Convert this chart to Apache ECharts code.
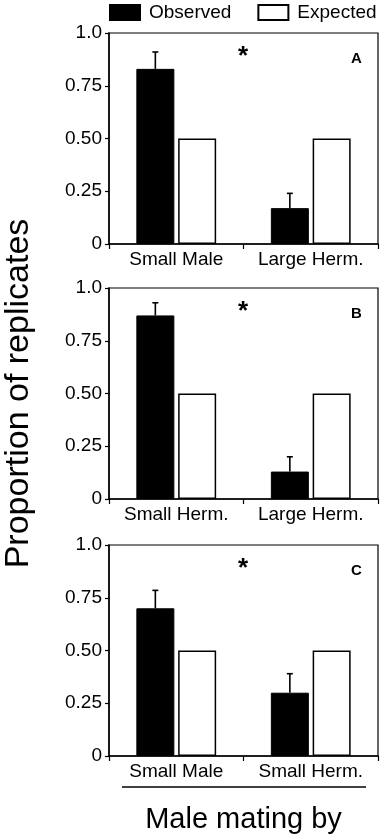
<!DOCTYPE html>
<html>
<head>
<meta charset="utf-8">
<script src="https://cdn.jsdelivr.net/npm/echarts@6/dist/echarts.min.js"></script>
<style>
  html, body { margin: 0; padding: 0; background: #fff; }
  #chart { width: 383px; height: 837px; }
</style>
</head>
<body>
<div id="chart"></div>
<script>
// data
var categoriesA = ['Small Male', 'Large Herm.']
var categoriesB = ['Small Herm.', 'Large Herm.']
var categoriesC = ['Small Male', 'Small Herm.']
var observedA = [0.83, 0.17]
var observedB = [0.87, 0.13]
var observedC = [0.70, 0.30]
var errorA = [0.08, 0.07]
var errorB = [0.06, 0.07]
var errorC = [0.085, 0.09]
var expected = [0.5, 0.5]
var panelLetters = ['A', 'B', 'C']
var yTicks = {0: '0', 0.25: '0.25', 0.5: '0.50', 0.75: '0.75', 1: '1.0'}

var FONT = 'Liberation Sans, Arial, sans-serif'
var gridTops = [33, 288, 545]
var gridHeight = 211
var barWidth = 38
var barOffset = -(barWidth * 1.1) / 2

function errorSeries(index, observed, error) {
    var data = observed.map(function (v, i) { return [i, v, v + error[i]] })
    return {
        type: 'custom',
        xAxisIndex: index,
        yAxisIndex: index,
        z: 5,
        encode: {x: 0, y: [1, 2]},
        data: data,
        renderItem: function (params, api) {
            var base = api.coord([api.value(0), api.value(1)])
            var top = api.coord([api.value(0), api.value(2)])
            var x = base[0] + barOffset
            var st = {stroke: '#000', lineWidth: 1.6}
            return {
                type: 'group',
                children: [
                    {type: 'line', shape: {x1: x, y1: base[1], x2: x, y2: top[1]}, style: st},
                    {type: 'line', shape: {x1: x - 3, y1: top[1], x2: x + 3, y2: top[1]}, style: st}
                ]
            }
        }
    }
}

var allCats = [categoriesA, categoriesB, categoriesC]
var allObs = [observedA, observedB, observedC]
var allErr = [errorA, errorB, errorC]

var grids = [], xAxes = [], yAxes = [], series = [], graphics = []

for (var i = 0; i < 3; i++) {
    grids.push({left: 109, right: 5, top: gridTops[i], height: gridHeight,
        outerBoundsMode: 'none', containLabel: false,
        show: true, borderColor: '#000', borderWidth: 1.2})
    xAxes.push({
        type: 'category',
        gridIndex: i,
        data: allCats[i],
        axisLine: {lineStyle: {color: '#000', width: 1.5}},
        axisTick: {show: true, interval: 0, length: 5, lineStyle: {color: '#000', width: 1.2}},
        axisLabel: {color: '#000', fontSize: 19, fontFamily: FONT, margin: 6,
            interval: 0, hideOverlap: false},
        name: i === 2 ? 'Male mating by' : '',
        nameLocation: 'middle',
        nameGap: 49,
        nameTextStyle: {color: '#000', fontSize: 29, fontFamily: FONT}
    })
    yAxes.push({
        type: 'value',
        gridIndex: i,
        min: 0,
        max: 1,
        interval: 0.25,
        splitLine: {show: false},
        axisLine: {show: true, lineStyle: {color: '#000', width: 1.5}},
        axisTick: {show: true, length: 4, lineStyle: {color: '#000', width: 1.2}},
        axisLabel: {color: '#000', fontSize: 19, fontFamily: FONT, margin: 7,
            formatter: function (v) { return yTicks[v] }},
        name: i === 1 ? 'Proportion of replicates' : '',
        nameLocation: 'middle',
        nameGap: 73,
        nameTextStyle: {color: '#000', fontSize: 34, fontFamily: FONT}
    })
    series.push({
        name: 'Observed',
        type: 'bar',
        xAxisIndex: i,
        yAxisIndex: i,
        barWidth: barWidth,
        barGap: '10%',
        data: allObs[i],
        itemStyle: {color: '#000', borderColor: '#000', borderWidth: 1}
    })
    series.push({
        name: 'Expected',
        type: 'bar',
        xAxisIndex: i,
        yAxisIndex: i,
        barWidth: barWidth,
        data: expected,
        itemStyle: {color: '#fff', borderColor: '#000', borderWidth: 1.5}
    })
    series.push(errorSeries(i, allObs[i], allErr[i]))

    // significance star and panel letter
    graphics.push({type: 'text', left: 238, top: gridTops[i] + 11,
        style: {text: '*', fontSize: 26, fontWeight: 'bold', fontFamily: FONT, fill: '#000'}})
    graphics.push({type: 'text', left: 351, top: gridTops[i] + 18,
        style: {text: panelLetters[i], fontSize: 15, fontWeight: 'bold', fontFamily: FONT, fill: '#000'}})
}

graphics.push({type: 'line', shape: {x1: 122, y1: 787, x2: 366, y2: 787},
    style: {stroke: '#000', lineWidth: 1.5}})

var chart = echarts.init(document.getElementById('chart'))
chart.setOption({
    animation: false,
    legend: {
        data: ['Observed', 'Expected'],
        left: 109,
        top: 3,
        width: 300,
        padding: 0,
        icon: 'rect',
        itemWidth: 30,
        itemHeight: 15,
        itemGap: 26,
        textStyle: {color: '#000', fontSize: 19, fontFamily: FONT, padding: [0, 0, 0, 4]}
    },
    grid: grids,
    xAxis: xAxes,
    yAxis: yAxes,
    series: series,
    graphic: graphics
})
</script>
</body>
</html>
